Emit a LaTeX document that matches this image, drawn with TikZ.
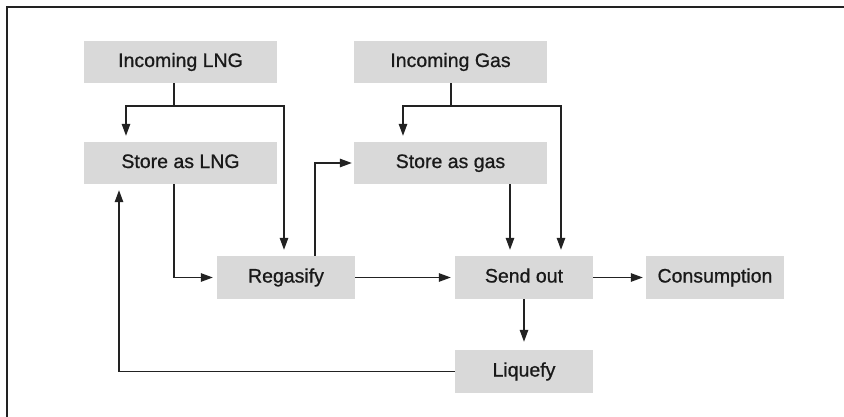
\documentclass[tikz,border=0pt]{standalone}
\usepackage{fontspec}
\setmainfont{Liberation Sans}
\newfontfamily\medfont{Liberation Sans}[FakeBold=0.8]
\usetikzlibrary{arrows.meta}
\definecolor{boxgray}{HTML}{D9D9D9}
\definecolor{linegray}{HTML}{222222}
\begin{document}
\begin{tikzpicture}[x=1pt,y=-1pt,
  proc/.style={fill=boxgray, draw=none, minimum width=193pt, minimum height=42pt, inner sep=0pt,
    font=\medfont\fontsize{19.5}{22}\selectfont, text=black!90, text height=14pt, text depth=4pt},
  procs/.style={proc, minimum width=138pt, minimum height=43pt},
  conn/.style={draw=linegray, line width=1.3pt},
  arr/.style={conn, -{Triangle[length=12pt,width=8.5pt]}, shorten >=6pt},
  harr/.style={conn, -{Triangle[length=12pt,width=8.5pt]}, shorten >=4pt}]
\useasboundingbox (0,0) rectangle (844,417);
\draw[draw=linegray, line width=2pt] (844,7.5) -- (6.5,7.5) -- (6.5,417);
\node[proc] (inlng) at (180.5,62) {Incoming LNG};
\node[proc] (storelng) at (180.5,163) {Store as LNG};
\node[proc] (ingas) at (450.5,62) {Incoming Gas};
\node[proc] (storegas) at (450.5,163) {Store as gas};
\node[procs] (regas) at (286,277.5) {Regasify};
\node[procs] (sendout) at (524,277.5) {Send out};
\node[procs] (consum) at (715,277.5) {Consumption};
\node[procs] (liquefy) at (524,371.5) {Liquefy};
\coordinate (lngsplit) at (174,106);
\coordinate (gassplit) at (451,106);
\draw[conn] (inlng.south -| lngsplit) -- (lngsplit);
\draw[arr] (lngsplit) -| ([xshift=-54.5pt]storelng.north);
\draw[arr] (lngsplit) -| ([xshift=-2pt]regas.north);
\draw[conn] (ingas.south -| gassplit) -- (gassplit);
\draw[arr] (gassplit) -| ([xshift=-47.5pt]storegas.north);
\draw[arr] (gassplit) -| ([xshift=37pt]sendout.north);
\draw[harr] (storelng.south -| lngsplit) |- (regas.west);
\draw[harr, shorten >=2pt] ([xshift=29pt]regas.north) |- (storegas.west);
\draw[arr] ([xshift=59.5pt]storegas.south) -- ([xshift=-14pt]sendout.north);
\draw[harr] (regas.east) -- (sendout.west);
\draw[harr, shorten >=3pt] (sendout.east) -- (consum.west);
\draw[arr, shorten >=8pt] (sendout.south) -- (liquefy.north);
\draw[arr] (liquefy.west) -| ([xshift=-61.5pt]storelng.south);
\end{tikzpicture}
\end{document}
